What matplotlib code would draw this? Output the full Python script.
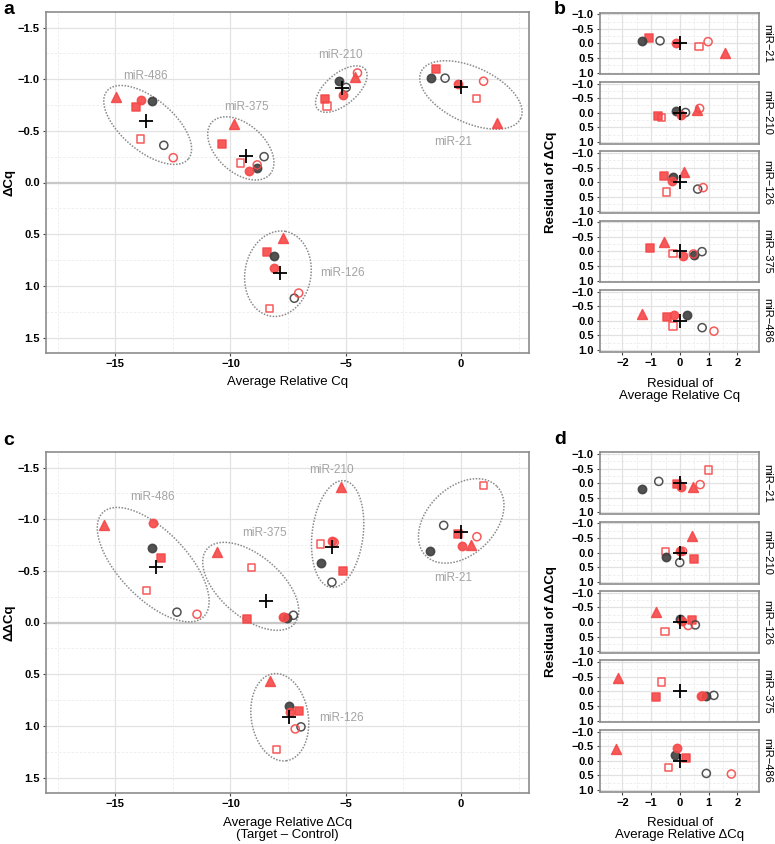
import numpy as np
import matplotlib
matplotlib.use('Agg')
import matplotlib.pyplot as plt

plt.rcParams['font.family'] = ['Liberation Sans', 'DejaVu Sans']

# ---------------- data ----------------
mirnas = ['miR-21', 'miR-210', 'miR-126', 'miR-375', 'miR-486']
samples = ['dark_filled', 'dark_open', 'red_filled', 'red_open', 'sq_filled', 'sq_open', 'tri']

# panel a : Average relative Cq (x) and dCq (y)
a_x = {
    'miR-21':  [-1.31, -0.69, -0.13, 0.98, -1.07, 0.66, 1.57],
    'miR-210': [-5.31, -4.98, -5.12, -4.49, -5.92, -5.81, -4.59],
    'miR-126': [-8.10, -7.23, -8.12, -7.04, -8.41, -8.31, -7.72],
    'miR-375': [-8.83, -8.54, -9.19, -8.84, -10.35, -9.55, -9.86],
    'miR-486': [-13.41, -12.89, -13.87, -12.48, -14.10, -13.91, -14.98],
}
a_y = {
    'miR-21':  [-1.01, -1.01, -0.95, -0.98, -1.10, -0.81, -0.58],
    'miR-210': [-0.98, -0.92, -0.85, -1.06, -0.81, -0.74, -1.02],
    'miR-126': [0.71, 1.12, 0.83, 1.07, 0.67, 1.22, 0.54],
    'miR-375': [-0.14, -0.25, -0.11, -0.17, -0.37, -0.19, -0.57],
    'miR-486': [-0.79, -0.36, -0.80, -0.24, -0.73, -0.42, -0.83],
}
# panel c : Average relative dCq (x) and ddCq (y)
c_x = {
    'miR-21':  [-1.34, -0.75, 0.03, 0.69, -0.13, 0.98, 0.43],
    'miR-210': [-6.07, -5.60, -5.60, -5.50, -5.10, -6.09, -5.19],
    'miR-126': [-7.46, -6.94, -7.40, -7.19, -7.04, -8.00, -8.30],
    'miR-375': [-7.55, -7.27, -7.72, -7.65, -9.29, -9.08, -10.59],
    'miR-486': [-13.42, -12.32, -13.35, -11.45, -13.02, -13.64, -15.47],
}
c_y = {
    'miR-21':  [-0.69, -0.94, -0.74, -0.83, -0.86, -1.325, -0.75],
    'miR-210': [-0.58, -0.39, -0.785, -0.775, -0.50, -0.76, -1.31],
    'miR-126': [0.81, 1.01, 0.87, 1.03, 0.856, 1.23, 0.567],
    'miR-375': [-0.04, -0.07, -0.05, -0.05, -0.03, -0.53, -0.68],
    'miR-486': [-0.72, -0.10, -0.962, -0.08, -0.62, -0.31, -0.946],
}
# cluster label positions (data coords)
a_label_pos = {'miR-21': (-0.36, -0.39), 'miR-210': (-5.21, -1.23), 'miR-126': (-5.12, 0.88),
               'miR-375': (-9.32, -0.73), 'miR-486': (-13.68, -1.03)}
c_label_pos = {'miR-21': (-0.36, -0.43), 'miR-210': (-5.60, -1.48), 'miR-126': (-5.19, 0.92),
               'miR-375': (-8.52, -0.87), 'miR-486': (-13.39, -1.21)}
# confidence ellipses: centre (data), semi-axes (screen px), rotation (deg, clockwise on screen)
a_ell_center = {'miR-21': (0.43, -0.847), 'miR-210': (-5.19, -0.904), 'miR-126': (-7.94, 0.883),
                'miR-375': (-9.55, -0.33), 'miR-486': (-13.59, -0.557)}
a_ell_shape = {'miR-21': (55, 27.7, 25), 'miR-210': (31, 15.6, -40), 'miR-126': (43, 33, -80),
               'miR-375': (39, 24, 42), 'miR-486': (53, 26, 40)}
c_ell_center = {'miR-21': (0.01, -0.983), 'miR-210': (-5.35, -0.856), 'miR-126': (-7.86, 0.917),
                'miR-375': (-9.12, -0.35), 'miR-486': (-13.35, -0.56)}
c_ell_shape = {'miR-21': (49.7, 33.8, -44), 'miR-210': (53.7, 25.5, -83), 'miR-126': (44, 28.5, 81),
               'miR-375': (57.5, 30.6, 40.5), 'miR-486': (72.5, 33.8, 46)}

# ---------------- style ----------------
RED = '#f54848'
DARK = '#3f3f3f'
GRAY_TXT = '#a3a3a3'
SPINE = '#8c8c8c'
styles = {
    'dark_filled': dict(marker='o', facecolor=DARK, edgecolor=DARK, s=36),
    'dark_open':   dict(marker='o', facecolor='none', edgecolor=DARK, s=34),
    'red_filled':  dict(marker='o', facecolor=RED, edgecolor=RED, s=36),
    'red_open':    dict(marker='o', facecolor='none', edgecolor=RED, s=34),
    'sq_filled':   dict(marker='s', facecolor=RED, edgecolor=RED, s=30),
    'sq_open':     dict(marker='s', facecolor='none', edgecolor=RED, s=28),
    'tri':         dict(marker='^', facecolor=RED, edgecolor=RED, s=50),
}
draw_order = ['sq_filled', 'sq_open', 'tri', 'dark_filled', 'dark_open', 'red_filled', 'red_open']

W, H = 775, 844
fig = plt.figure(figsize=(W / 100, H / 100), dpi=100)


def rect(l, t, r, b):
    return [l / W, 1 - b / H, (r - l) / W, (b - t) / H]


def style_axes(ax, xmajor, xminor, ymajor, yminor, xlabels, ylabels, show_x=True, show_y=True):
    ax.set_facecolor('white')
    for v in xminor:
        ax.axvline(v, color='#ececec', lw=0.6, ls=(0, (3, 2)), zorder=0)
    for v in yminor:
        ax.axhline(v, color='#ececec', lw=0.6, ls=(0, (3, 2)), zorder=0)
    for v in xmajor:
        ax.axvline(v, color='#e2e2e2', lw=0.9, zorder=0)
    for v in ymajor:
        ax.axhline(v, color='#e2e2e2', lw=0.9, zorder=0)
    ax.set_xticks(xmajor)
    ax.set_yticks(ymajor)
    ax.set_xticklabels(xlabels if show_x else [], fontsize=8, fontweight='bold')
    ax.set_yticklabels(ylabels if show_y else [], fontsize=8, fontweight='bold')
    ax.tick_params(length=2.5, width=0.8, color='#444444', pad=2)
    if not show_x:
        ax.tick_params(axis='x', length=0)
    for s in ax.spines.values():
        s.set_color(SPINE)
        s.set_linewidth(1.2)


def mf(v, fmt):
    return (fmt % v).replace('-', '\u2212')


def main_panel(l, t, r, b, xs, ys, label_pos, ell_c, ell_s):
    ax = fig.add_axes(rect(l, t, r, b))
    xlim = (-18, 2.95)
    ylim = (1.65, -1.65)
    ax.set_xlim(*xlim)
    ax.set_ylim(*ylim)
    sx = (r - l) / (xlim[1] - xlim[0])
    sy = (b - t) / (ylim[0] - ylim[1])
    xmaj = [-15, -10, -5, 0]
    ymaj = [-1.5, -1.0, -0.5, 0.0, 0.5, 1.0, 1.5]
    style_axes(ax, xmaj, [-17.5, -12.5, -7.5, -2.5, 2.5], ymaj, [-1.25, -0.75, -0.25, 0.25, 0.75, 1.25],
               [mf(v, '%d') for v in xmaj], [mf(v, '%.1f') for v in ymaj])
    ax.axhline(0, color='#c8c8c8', lw=1.6, zorder=0.5)
    tt = np.linspace(0, 2 * np.pi, 120)
    for m in mirnas:
        x = np.array(xs[m]); y = np.array(ys[m])
        cx, cy = ell_c[m]
        A, B, ang = ell_s[m]
        ph = np.deg2rad(ang)
        u = A * np.cos(tt); v = B * np.sin(tt)
        ex = cx + (u * np.cos(ph) - v * np.sin(ph)) / sx
        ey = cy + (u * np.sin(ph) + v * np.cos(ph)) / sy
        ax.plot(ex, ey, color='#8a8a8a', lw=1.1, ls=(0, (1, 1)), zorder=1)
        for key in draw_order:
            i = samples.index(key)
            ax.scatter([x[i]], [y[i]], linewidths=1.1, alpha=0.9, zorder=3, **styles[key])
        ax.scatter([x.mean()], [y.mean()], marker='+', s=110, color='black', linewidths=1.3, zorder=4)
        lx, ly = label_pos[m]
        ax.text(lx, ly, m, color=GRAY_TXT, fontsize=8.5, ha='center', va='center', zorder=2)
    return ax


def facet_panel(top, bottom, xs, ys):
    gap = 7.5
    h = (bottom - top - 4 * gap) / 5
    xmaj = [-2, -1, 0, 1, 2]
    ymaj = [-1.0, -0.5, 0.0, 0.5, 1.0]
    for k, m in enumerate(mirnas):
        t = top + k * (h + gap)
        ax = fig.add_axes(rect(600, t, 759, t + h))
        ax.set_xlim(-2.78, 2.75)
        ax.set_ylim(1.06, -1.06)
        style_axes(ax, xmaj, [-2.5, -1.5, -0.5, 0.5, 1.5, 2.5], ymaj, [-0.75, -0.25, 0.25, 0.75],
                   [mf(v, '%d') for v in xmaj], [mf(v, '%.1f') for v in ymaj], show_x=(k == 4))
        x = np.array(xs[m]); y = np.array(ys[m])
        rx = x - x.mean(); ry = y - y.mean()
        for key in draw_order:
            i = samples.index(key)
            ax.scatter([rx[i]], [ry[i]], linewidths=1.1, alpha=0.9, zorder=3, clip_on=False, **styles[key])
        ax.scatter([0], [0], marker='+', s=110, color='black', linewidths=1.3, zorder=4)
        fig.text(767.5 / W, 1 - (t + h / 2) / H, m.replace('-', '\u2212'), rotation=270,
                 ha='center', va='center', fontsize=8)


main_panel(46, 12, 529, 353, a_x, a_y, a_label_pos, a_ell_center, a_ell_shape)
main_panel(46, 452, 529, 793, c_x, c_y, c_label_pos, c_ell_center, c_ell_shape)
facet_panel(12.5, 351.7, a_x, a_y)
facet_panel(452.3, 791.7, c_x, c_y)


def ftext(x, y, s, **kw):
    fig.text(x / W, 1 - y / H, s, **kw)


ftext(287.5, 382, 'Average Relative Cq', ha='center', va='center', fontsize=9.5)
ftext(287.5, 829, 'Average Relative \u0394Cq\n(Target \u2013 Control)', ha='center', va='center',
      fontsize=9.5, linespacing=1.1)
ftext(680, 390, 'Residual of\nAverage Relative Cq', ha='center', va='center', fontsize=9.5, linespacing=1.1)
ftext(680, 829, 'Residual of\nAverage Relative \u0394Cq', ha='center', va='center', fontsize=9.5,
      linespacing=1.1)
ftext(9, 182.5, '\u0394Cq', rotation=90, ha='center', va='center', fontsize=9.5, fontweight='bold')
ftext(9, 622.5, '\u0394\u0394Cq', rotation=90, ha='center', va='center', fontsize=9.5, fontweight='bold')
ftext(551, 182, 'Residual of \u0394Cq', rotation=90, ha='center', va='center', fontsize=9.5, fontweight='bold')
ftext(551, 622, 'Residual of \u0394\u0394Cq', rotation=90, ha='center', va='center', fontsize=9.5,
      fontweight='bold')
for lab, x, y in [('a', 9, 10), ('b', 560, 10), ('c', 9, 440), ('d', 560, 439)]:
    ftext(x, y, lab, ha='center', va='center', fontsize=14, fontweight='bold')

fig.savefig('out.png', dpi=100)
